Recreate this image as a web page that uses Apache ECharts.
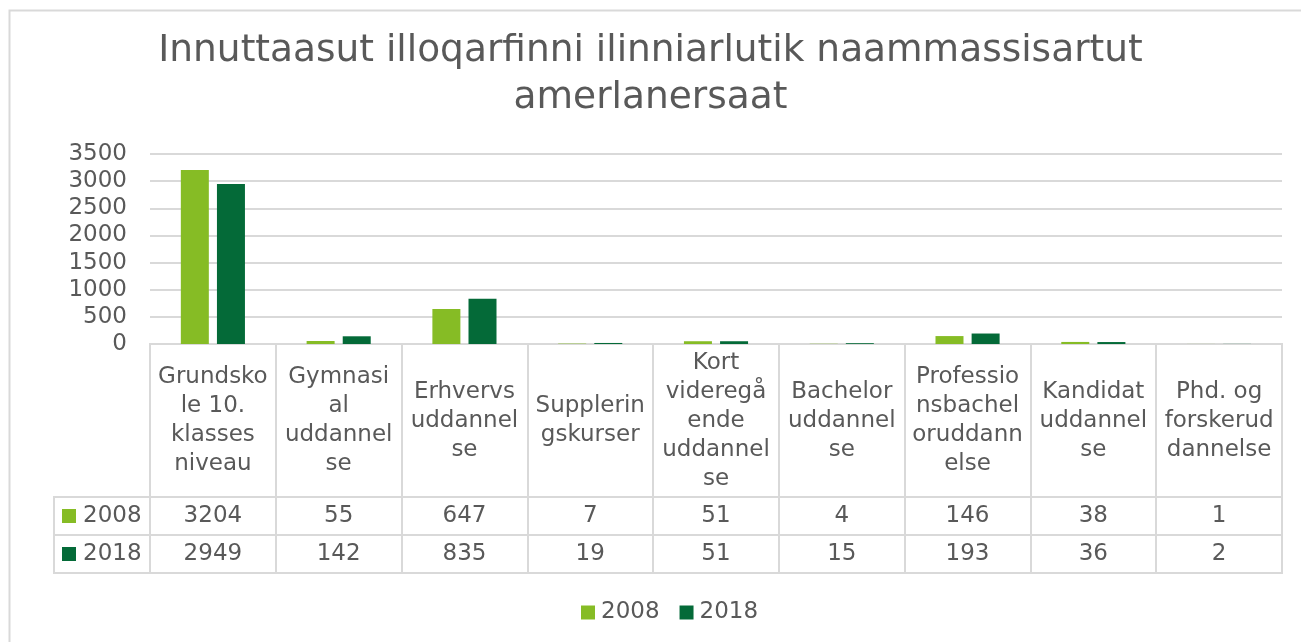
<!DOCTYPE html>
<html>
<head>
<meta charset="utf-8">
<script src="https://cdn.jsdelivr.net/npm/echarts@6/dist/echarts.min.js"></script>
<style>
  html, body { margin: 0; padding: 0; background: #fff; }
  #chart { width: 1301px; height: 642px; }
</style>
</head>
<body>
<div id="chart"></div>
<script>
// kategorier, som Excel bryder dem i datatabellen
var categories = [
  'Grundsko\nle 10.\nklasses\nniveau',
  'Gymnasi\nal\nuddannel\nse',
  'Erhvervs\nuddannel\nse',
  'Supplerin\ngskurser',
  'Kort\nvideregå\nende\nuddannel\nse',
  'Bachelor\nuddannel\nse',
  'Professio\nnsbachel\noruddann\nelse',
  'Kandidat\nuddannel\nse',
  'Phd. og\nforskerud\ndannelse'
]
var seriesNames = ['2008', '2018']
var values2008 = [3204, 55, 647, 7, 51, 4, 146, 38, 1]
var values2018 = [2949, 142, 835, 19, 51, 15, 193, 36, 2]
var yTicks = { min: 0, max: 3500, interval: 500 }

var FONT = 'Verdana, "DejaVu Sans", sans-serif'
var TXT = '#595959'
var LINE = '#D9D9D9'
var colors = ['#86BC25', '#046A38']

var chart = echarts.init(document.getElementById('chart'))

var hiddenValueAxis = function (idx) {
  return { type: 'value', gridIndex: idx, show: false }
}

chart.setOption({
  color: colors,
  animation: false,
  textStyle: { fontFamily: FONT, color: TXT },
  title: {
    text: 'Innuttaasut illoqarfinni ilinniarlutik naammassisartut\namerlanersaat',
    left: 'center',
    top: 23,
    textStyle: { fontFamily: FONT, fontSize: 37.5, lineHeight: 47, fontWeight: 'normal', color: TXT }
  },
  legend: {
    data: seriesNames,
    left: 576,
    top: 596,
    icon: 'rect',
    itemWidth: 14,
    itemHeight: 14,
    itemGap: 20,
    textStyle: { fontFamily: FONT, fontSize: 23, color: TXT, padding: [0, 0, 0, 1] }
  },
  graphic: [{
    type: 'rect',
    shape: { x: 9.5, y: 10.5, width: 1320, height: 660 },
    style: { fill: 'none', stroke: LINE, lineWidth: 2 },
    silent: true
  }],
  grid: [
    { left: 150, right: 19, top: 154, height: 190 },                                          // søjler
    { left: 150, right: 19, top: 344, height: 153, show: true, borderColor: LINE, borderWidth: 2 }, // navne
    { left: 150, right: 19, top: 497, height: 76, show: true, borderColor: LINE, borderWidth: 2 },  // tal
    { left: 54, width: 96, top: 497, height: 76, show: true, borderColor: LINE, borderWidth: 2 }    // serienavne
  ],
  xAxis: [
    {
      type: 'category', gridIndex: 0, data: categories,
      axisLine: { lineStyle: { color: LINE, width: 2 } },
      axisTick: { show: false },
      axisLabel: { show: false }
    },
    {
      type: 'category', gridIndex: 1, position: 'top', data: categories,
      axisLine: { show: false }, axisTick: { show: false },
      axisLabel: {
        inside: true, margin: 77, interval: 0, verticalAlign: 'middle',
        fontFamily: FONT, fontSize: 23, lineHeight: 29, color: TXT
      },
      splitLine: { show: true, interval: 0, lineStyle: { color: LINE, width: 2 } }
    },
    {
      type: 'category', gridIndex: 2, position: 'top', data: values2008.map(String),
      axisLine: { show: false }, axisTick: { show: false },
      axisLabel: { inside: true, margin: 19, interval: 0, verticalAlign: 'middle', fontFamily: FONT, fontSize: 23, color: TXT },
      splitLine: { show: true, interval: 0, lineStyle: { color: LINE, width: 2 } }
    },
    {
      type: 'category', gridIndex: 2, position: 'bottom', data: values2018.map(String),
      axisLine: { show: false }, axisTick: { show: false },
      axisLabel: { inside: true, margin: 19, interval: 0, verticalAlign: 'middle', fontFamily: FONT, fontSize: 23, color: TXT },
      splitLine: { show: false }
    },
    hiddenValueAxis(3)
  ],
  yAxis: [
    {
      type: 'value', gridIndex: 0,
      min: yTicks.min, max: yTicks.max, interval: yTicks.interval,
      axisLine: { show: false }, axisTick: { show: false },
      axisLabel: { margin: 23, fontFamily: FONT, fontSize: 23, color: TXT, formatter: function (v) { return String(v) } },
      splitLine: { lineStyle: { color: LINE, width: 2 } }
    },
    hiddenValueAxis(1),
    {
      type: 'category', gridIndex: 2, data: seriesNames, inverse: true,
      axisLine: { show: false }, axisTick: { show: false }, axisLabel: { show: false },
      splitLine: { show: true, interval: 0, lineStyle: { color: LINE, width: 2 } }
    },
    {
      type: 'category', gridIndex: 3, data: seriesNames, inverse: true,
      axisLine: { show: false }, axisTick: { show: false },
      axisLabel: {
        inside: true, margin: 8, interval: 0,
        formatter: function (val, i) { return '{k' + i + '|}{t|' + val + '}' },
        rich: {
          k0: { width: 14, height: 14, backgroundColor: colors[0] },
          k1: { width: 14, height: 14, backgroundColor: colors[1] },
          t: { fontFamily: FONT, fontSize: 23, color: TXT, padding: [0, 0, 0, 7] }
        }
      },
      splitLine: { show: true, interval: 0, lineStyle: { color: LINE, width: 2 } }
    }
  ],
  series: [
    {
      name: seriesNames[0], type: 'bar', xAxisIndex: 0, yAxisIndex: 0,
      barWidth: 28, barGap: '29%',
      data: values2008
    },
    {
      name: seriesNames[1], type: 'bar', xAxisIndex: 0, yAxisIndex: 0,
      barWidth: 28, barGap: '29%',
      data: values2018
    }
  ]
})
</script>
</body>
</html>
